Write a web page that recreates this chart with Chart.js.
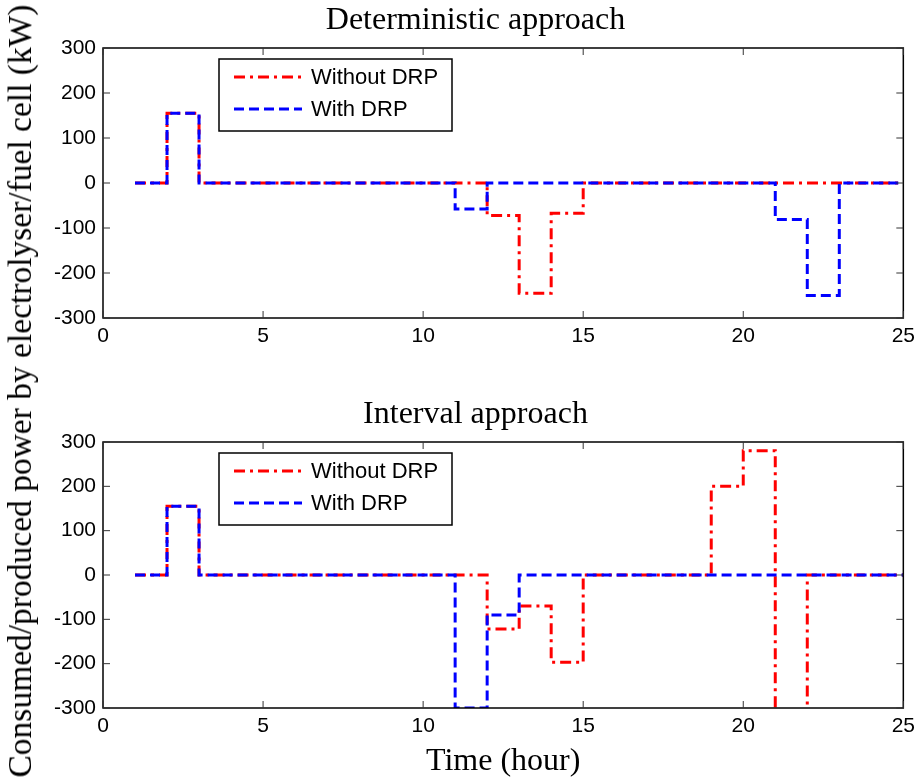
<!DOCTYPE html>
<html>
<head>
<meta charset="utf-8">
<script src="https://cdn.jsdelivr.net/npm/chart.js@4"></script>
<style>
    body { margin: 0; background: #fff; }
    #wrap { position: relative; width: 915px; height: 783px; overflow: hidden; }
    canvas { position: absolute; left: 0; }
    #ylabel {
        position: absolute; left: 20px; top: 391px;
        transform: translate(-50%, -50%) rotate(-90deg);
        font: 33.5px "Liberation Serif", serif; color: #000; white-space: nowrap;
    }
</style>
</head>
<body>
<div id="wrap">
    <canvas id="detChart" width="921" height="352" style="top:0px"></canvas>
    <canvas id="intChart" width="921" height="389" style="top:394px"></canvas>
    <div id="ylabel">Consumed/produced power by electrolyser/fuel cell (kW)</div>
</div>
<script>
// hourly values (kW), value at hour h holds until h+1
const hours = [1, 2, 3, 4, 5, 6, 7, 8, 9, 10, 11, 12, 13, 14, 15, 16, 17, 18, 19, 20, 21, 22, 23, 24, 25];

const detWithout = [0, 155, 0, 0, 0, 0, 0, 0, 0, 0, 0, -72, -245, -67, 0, 0, 0, 0, 0, 0, 0, 0, 0, 0, 0];
const detWith    = [0, 155, 0, 0, 0, 0, 0, 0, 0, 0, -58, 0, 0, 0, 0, 0, 0, 0, 0, 0, -81, -250, 0, 0, 0];

const intWithout = [0, 155, 0, 0, 0, 0, 0, 0, 0, 0, 0, -122, -70, -197, 0, 0, 0, 0, 200, 280, -400, 0, 0, 0, 0];
const intWith    = [0, 155, 0, 0, 0, 0, 0, 0, 0, 0, -300, -90, 0, 0, 0, 0, 0, 0, 0, 0, 0, 0, 0, 0, 0];

const seriesLabels = ['Without DRP', 'With DRP'];
const xTicks = [0, 5, 10, 15, 20, 25];
const yTicks = [-300, -200, -100, 0, 100, 200, 300];

const tickFont = { family: 'Liberation Sans', size: 21 };
const titleFont = { family: 'Liberation Serif', size: 32, weight: 'normal' };

// MATLAB-like frame, inward ticks and boxed legend
const framePlugin = {
    id: 'frame',
    afterDatasetsDraw(chart) {
        const { ctx, chartArea: a, scales } = chart;
        ctx.save();
        ctx.strokeStyle = '#000';
        ctx.lineWidth = 1.5;
        ctx.strokeRect(a.left, a.top, a.right - a.left, a.bottom - a.top);

        ctx.lineWidth = 1;
        ctx.strokeStyle = '#333';
        ctx.beginPath();
        xTicks.forEach(v => {
            const px = scales.x.getPixelForValue(v);
            ctx.moveTo(px, a.bottom); ctx.lineTo(px, a.bottom - 7);
            ctx.moveTo(px, a.top); ctx.lineTo(px, a.top + 7);
        });
        yTicks.forEach(v => {
            const py = scales.y.getPixelForValue(v);
            ctx.moveTo(a.left, py); ctx.lineTo(a.left + 7, py);
            ctx.moveTo(a.right, py); ctx.lineTo(a.right - 7, py);
        });
        ctx.stroke();

        // legend box
        const bx = a.left + 116, by = a.top + 11, bw = 233, bh = 72;
        ctx.fillStyle = '#fff';
        ctx.fillRect(bx, by, bw, bh);
        ctx.strokeStyle = '#000';
        ctx.lineWidth = 1.5;
        ctx.strokeRect(bx, by, bw, bh);
        ctx.font = '22px "Liberation Sans"';
        ctx.textBaseline = 'middle';
        chart.data.datasets.forEach((ds, i) => {
            const ry = by + 18 + i * 32;
            ctx.strokeStyle = ds.borderColor;
            ctx.lineWidth = ds.borderWidth;
            ctx.setLineDash(ds.borderDash);
            ctx.beginPath();
            ctx.moveTo(bx + 15, ry);
            ctx.lineTo(bx + 83, ry);
            ctx.stroke();
            ctx.setLineDash([]);
            ctx.fillStyle = '#000';
            ctx.fillText(ds.label, bx + 92, ry + 1);
        });
        ctx.restore();
    }
};

function makeChart(canvasId, title, without, withDrp, xAxisHeight, xTitle) {
    const ctx = document.getElementById(canvasId).getContext('2d');
    return new Chart(ctx, {
        type: 'line',
        data: {
            datasets: [
                {
                    label: seriesLabels[0],
                    data: hours.map((h, i) => ({ x: h, y: without[i] })),
                    borderColor: '#ff0000',
                    borderWidth: 3,
                    borderDash: [11, 5, 3, 5],
                    stepped: true,
                    pointRadius: 0,
                    fill: false,
                    order: 2
                },
                {
                    label: seriesLabels[1],
                    data: hours.map((h, i) => ({ x: h, y: withDrp[i] })),
                    borderColor: '#0000ff',
                    borderWidth: 3,
                    borderDash: [10, 5],
                    stepped: true,
                    pointRadius: 0,
                    fill: false,
                    order: 1
                }
            ]
        },
        options: {
            responsive: false,
            animation: false,
            layout: { padding: { left: 43, right: 13, top: 0, bottom: 0 } },
            plugins: {
                legend: { display: false },
                tooltip: { enabled: false },
                title: {
                    display: true,
                    text: title,
                    color: '#000',
                    font: titleFont,
                    padding: { top: 1, bottom: 8.6 }
                }
            },
            scales: {
                x: {
                    type: 'linear',
                    min: 0,
                    max: 25,
                    afterBuildTicks: scale => { scale.ticks = xTicks.map(v => ({ value: v })); },
                    afterFit: scale => { scale.height = xAxisHeight; },
                    grid: { display: false, drawTicks: false },
                    border: { display: false },
                    ticks: { color: '#000', font: tickFont, padding: 6, maxRotation: 0 },
                    title: {
                        display: !!xTitle,
                        text: xTitle || '',
                        color: '#000',
                        font: titleFont,
                        padding: { top: 0, bottom: 2 }
                    }
                },
                y: {
                    min: -300,
                    max: 300,
                    afterBuildTicks: scale => { scale.ticks = yTicks.map(v => ({ value: v })); },
                    afterFit: scale => { scale.width = 60; },
                    grid: { display: false, drawTicks: false },
                    border: { display: false },
                    ticks: { color: '#000', font: tickFont, padding: 7 }
                }
            }
        },
        plugins: [framePlugin]
    });
}

makeChart('detChart', 'Deterministic approach', detWithout, detWith, 34, null);
makeChart('intChart', 'Interval approach', intWithout, intWith, 75, 'Time (hour)');
</script>
</body>
</html>
